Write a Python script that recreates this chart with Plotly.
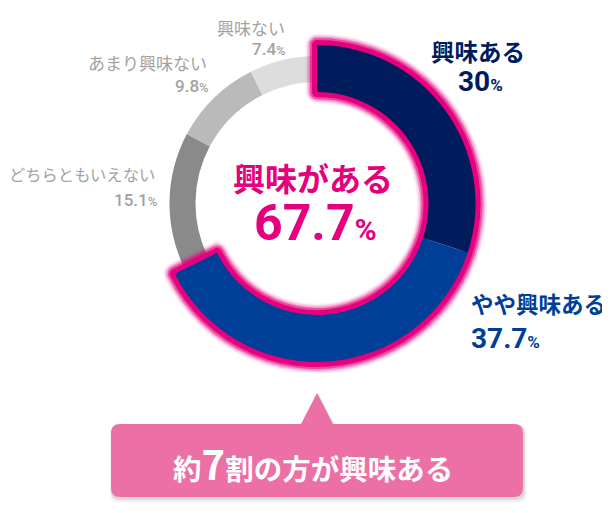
import plotly.graph_objects as go

# ---- data ----
categories = ["興味ある", "やや興味ある", "どちらともいえない", "あまり興味ない", "興味ない"]
values = [30, 37.7, 15.1, 9.8, 7.4]
value_labels = ["30", "37.7", "15.1", "9.8", "7.4"]
highlight_label = "興味がある"
highlight_value = 67.7
callout_pre, callout_num, callout_post = "約", "7", "割の方が興味ある"

# page is offset by the default 8px body margin
OFF = 8
W, H = 610 - OFF, 513 - OFF
CX, CY = 317, 203.5
R_MAIN, R_MAIN_IN = 158.5, 111.5
R_GRAY, R_GRAY_IN = 147.5, 121.5

T = "rgba(0,0,0,0)"
NAVY, BLUE = "#001c5c", "#003f98"
GRAYS = ["#8a8a8a", "#b9bab9", "#dcdddc"]
PINK = "#e5007e"
BOX = "#ec6fa6"
LABEL_GRAY = "#a2a2a2"
JP = "Noto Sans CJK JP"
NUM = "Roboto, Noto Sans CJK JP"


def X(x):
    return (x - OFF) / W


def Y(y):
    return 1 - (y - OFF) / H


def dom(cx, cy, r):
    return dict(x=[X(cx - r), X(cx + r)], y=[Y(cy + r), Y(cy - r)])


common = dict(sort=False, direction="clockwise", rotation=0, textinfo="none",
              hoverinfo="skip", showlegend=False)

fig = go.Figure()

# gray ring (thinner, smaller)
fig.add_trace(go.Pie(labels=categories, values=values, hole=R_GRAY_IN / R_GRAY,
                     domain=dom(CX, CY, R_GRAY),
                     marker=dict(colors=[T, T] + GRAYS, line=dict(width=0)), **common))

# pink glow outline around highlighted part
hl_values = [highlight_value, 100 - highlight_value]
for w, c in [(23, "rgba(229,0,126,0.07)"), (20, "rgba(229,0,126,0.14)"),
             (17, "rgba(229,0,126,0.28)"), (14, "rgba(229,0,126,0.5)"), (10, PINK)]:
    fig.add_trace(go.Pie(labels=["hl", "rest"], values=hl_values, hole=R_MAIN_IN / R_MAIN,
                         domain=dom(CX, CY, R_MAIN),
                         marker=dict(colors=[T, T], line=dict(width=w, color=[c, T])),
                         **common))

# highlighted coloured segments
fig.add_trace(go.Pie(labels=categories, values=values, hole=R_MAIN_IN / R_MAIN,
                     domain=dom(CX, CY, R_MAIN),
                     marker=dict(colors=[NAVY, BLUE, T, T, T], line=dict(width=0)), **common))

# ---- callout box ----
x0, x1, y0, y1, r = 111, 523, 424, 497, 9
tri_l, tri_r, tri_x, tri_y = 301, 333, 317, 393


def box_path(dx=0.0, dy=0.0, grow=0.0):
    a0, a1, b0, b1 = x0 - grow + dx, x1 + grow + dx, y0 - grow + dy, y1 + grow + dy
    pts = [
        f"M{X(a0 + r)},{Y(b0)}",
        f"L{X(tri_l + dx)},{Y(b0)}",
        f"L{X(tri_x + dx)},{Y(tri_y - grow + dy)}",
        f"L{X(tri_r + dx)},{Y(b0)}",
        f"L{X(a1 - r)},{Y(b0)}",
        f"Q{X(a1)},{Y(b0)} {X(a1)},{Y(b0 + r)}",
        f"L{X(a1)},{Y(b1 - r)}",
        f"Q{X(a1)},{Y(b1)} {X(a1 - r)},{Y(b1)}",
        f"L{X(a0 + r)},{Y(b1)}",
        f"Q{X(a0)},{Y(b1)} {X(a0)},{Y(b1 - r)}",
        f"L{X(a0)},{Y(b0 + r)}",
        f"Q{X(a0)},{Y(b0)} {X(a0 + r)},{Y(b0)}",
        "Z",
    ]
    return " ".join(pts)


shapes = [
    dict(type="path", xref="paper", yref="paper", path=box_path(1.5, 3, 2.5),
         fillcolor="rgba(0,0,0,0.05)", line=dict(width=0)),
    dict(type="path", xref="paper", yref="paper", path=box_path(1, 2, 1),
         fillcolor="rgba(0,0,0,0.10)", line=dict(width=0)),
    dict(type="path", xref="paper", yref="paper", path=box_path(),
         fillcolor=BOX, line=dict(width=0)),
]

# ---- annotations ----
ann = []


def add(text, x, y, size, color, family=JP, weight=400, xanchor="center"):
    ann.append(dict(text=text, x=X(x), y=Y(y), xref="paper", yref="paper", showarrow=False,
                    xanchor=xanchor, yanchor="middle",
                    font=dict(size=size, color=color, family=family, weight=weight)))


def pct(v, small):
    return f"{v}<span style='font-size:{small}px'>%</span>"


# 興味ない
add(categories[4], 287, 27, 17, LABEL_GRAY, xanchor="right")
add(pct(value_labels[4], 13), 288, 49, 17, LABEL_GRAY, NUM, 500, xanchor="right")
# あまり興味ない
add(categories[3], 209, 63, 17, LABEL_GRAY, xanchor="right")
add(pct(value_labels[3], 13), 211, 86, 17, LABEL_GRAY, NUM, 500, xanchor="right")
# どちらともいえない
add(categories[2], 157, 174, 16.3, LABEL_GRAY, xanchor="right")
add(pct(value_labels[2], 13), 159, 200, 17, LABEL_GRAY, NUM, 500, xanchor="right")
# 興味ある
add(categories[0], 478, 51, 23.5, NAVY, weight=700)
add(pct(value_labels[0], 17), 480, 81, 28, NAVY, NUM, 700)
# やや興味ある
add(categories[1], 469, 303, 22.5, BLUE, weight=700, xanchor="left")
add(pct(value_labels[1], 17), 469, 338, 28, BLUE, NUM, 700, xanchor="left")
# centre
add(highlight_label, 313, 177, 32, PINK, weight=700)
add(pct(highlight_value, 30), 315, 223, 50, PINK, NUM, 700)
# callout
add(f"{callout_pre}<span style='font-size:40px'>{callout_num}</span>{callout_post}",
    313, 463, 28.5, "#ffffff", JP, 700)

fig.update_layout(
    width=W, height=H,
    margin=dict(l=0, r=0, t=0, b=0),
    paper_bgcolor="white", plot_bgcolor="white",
    shapes=shapes, annotations=ann,
)

fig.write_html("out.html")
